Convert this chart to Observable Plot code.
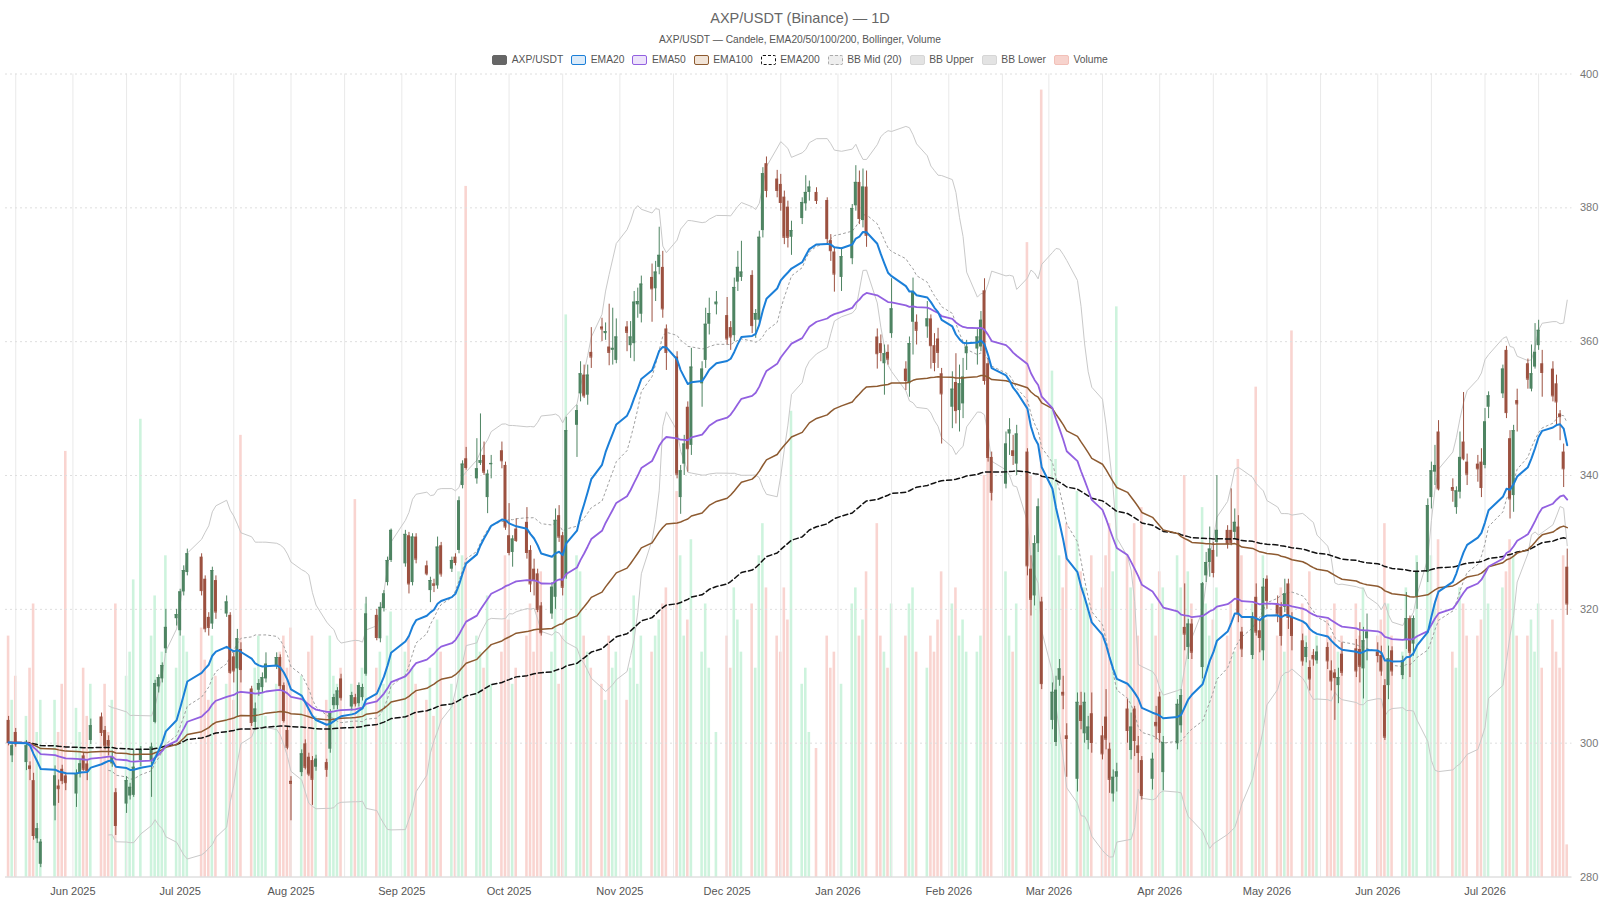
<!DOCTYPE html>
<html><head><meta charset="utf-8">
<script src="https://cdn.jsdelivr.net/npm/d3@7"></script>
<script src="https://cdn.jsdelivr.net/npm/@observablehq/plot@0.6"></script>
<style>
body{margin:0;background:#fff;font-family:"Liberation Sans",Arial,sans-serif;}
#header{position:relative;width:1600px;height:66px;}
#title{position:absolute;top:8px;left:0;width:100%;text-align:center;font-size:14.5px;color:#666;line-height:20px;}
#subtitle{position:absolute;top:33px;left:0;width:100%;text-align:center;font-size:10.2px;color:#555;line-height:14px;}
#legend{position:absolute;top:53px;left:0;width:100%;display:flex;justify-content:center;gap:8px;font-size:10.3px;color:#555;line-height:14px;}
.item{display:flex;align-items:center;gap:4.5px;}
.sw{width:13px;height:8px;border-radius:2px;}
#chart{position:relative;width:1600px;height:834px;}
#chart svg{position:absolute;left:0;top:0;}
</style></head>
<body>
<div id="header">
  <div id="title">AXP/USDT (Binance) — 1D</div>
  <div id="subtitle">AXP/USDT — Candele, EMA20/50/100/200, Bollinger, Volume</div>
  <div id="legend"></div>
</div>
<div id="chart"></div>
<script>
// ---- calendar (NYSE trading days) ----
const firstDay = "2025-05-14";
const lastDay = "2026-07-24";
const holidays = ["2025-05-26","2025-06-19","2025-07-04","2025-09-01","2025-11-27","2025-12-25",
  "2026-01-01","2026-01-19","2026-02-16","2026-04-03","2026-05-25","2026-06-19","2026-07-03"];

// ---- daily candles [open, high, low, close], one line per week ----
const prices = [
 [303.4,304.0,299.6,300.1],[298.1,300.0,297.1,299.6],[301.6,302.2,299.4,299.9],
 [297.1,300.4,295.9,299.6],[296.6,297.2,294.4,296.2],[294.4,295.5,285.5,286.2],[285.7,288.0,285.0,287.2],[281.9,285.6,281.4,285.2],
 [290.6,296.6,288.4,295.1],[293.6,294.5,291.0,293.2],[296.1,296.7,293.8,294.4],[295.1,295.6,292.9,294.1],
 [292.4,296.0,290.4,295.4],[295.4,297.5,294.8,296.9],[298.1,298.6,295.8,296.1],[296.9,297.4,294.4,295.9],[300.4,303.6,299.8,302.6],
 [303.9,304.5,301.0,301.6],[301.9,302.5,299.0,299.6],[300.4,301.1,298.1,299.6],[296.9,298.8,296.4,297.9],[292.6,293.2,286.2,287.7],
 [290.9,295.0,289.5,294.4],[292.1,294.0,291.5,293.4],[292.2,298.9,291.9,296.4],[297.4,299.5,296.5,298.9],
 [297.4,300.0,291.9,299.4],[303.1,309.4,302.9,308.9],[308.4,310.2,307.5,309.8],[309.6,312.0,309.0,311.6],[314.1,320.0,313.4,317.3],
 [318.6,320.0,317.5,319.2],[316.8,323.0,316.0,322.6],[322.6,326.5,322.0,325.8],[325.5,329.0,325.0,328.3],
 [327.8,328.3,322.0,322.8],[324.5,325.0,316.5,317.1],[318.8,319.5,316.0,317.3],[317.8,326.3,317.0,325.8],[324.3,325.0,318.5,319.6],
 [319.3,322.0,318.8,321.1],[319.1,319.5,310.3,310.6],[312.9,313.5,309.0,310.8],[311.1,317.0,303.9,315.6],[314.0,315.0,309.0,311.0],
 [308.1,308.5,302.5,303.1],[303.1,306.0,302.0,305.1],[307.9,309.5,307.0,308.9],[308.3,310.5,307.5,309.8],[309.6,313.5,309.0,311.8],
 [311.5,313.5,311.0,312.8],[312.8,313.2,308.0,308.6],[308.6,309.0,303.0,303.4],[301.9,302.5,299.0,299.4],[294.3,295.0,288.4,294.0],
 [295.6,299.0,295.0,298.4],[299.9,300.5,296.0,296.4],[297.9,298.5,295.0,295.4],[297.4,298.0,290.7,294.6],[296.4,298.2,295.8,297.6],
 [297.1,297.6,294.9,296.1],[299.1,305.0,298.5,304.4],[305.6,307.3,305.0,306.8],[305.6,308.3,305.0,307.8],[309.6,310.3,306.3,306.8],
 [305.4,307.6,304.8,307.1],[306.8,307.3,305.4,305.9],[305.9,309.0,305.4,308.6],[306.8,308.8,306.3,308.3],[310.3,321.8,310.0,319.3],
 [319.1,320.0,315.3,315.8],[315.6,321.0,315.0,320.3],[320.1,322.8,319.6,322.3],[324.0,327.8,323.5,327.3],[327.3,332.0,327.0,331.8],
 [326.8,331.8,326.3,331.2],[331.0,331.5,322.3,323.8],[324.0,331.3,323.5,330.8],[330.8,331.3,326.8,327.5],
 [326.5,327.2,325.0,325.3],[322.8,324.8,321.0,324.3],[323.8,324.5,322.5,323.6],[323.5,330.8,323.0,329.3],[329.5,330.0,324.8,325.3],
 [326.0,327.8,325.5,327.3],[327.8,328.3,326.5,327.0],[328.8,336.8,328.3,336.2],[338.5,342.2,338.0,341.7],[342.5,344.2,340.8,341.2],
 [339.5,345.5,338.7,341.0],[341.8,349.2,341.5,342.2],[343.0,345.0,340.0,340.5],[336.7,340.8,334.3,340.2],[341.6,343.0,339.5,341.8],
 [343.7,345.0,341.0,342.2],[341.5,342.0,331.8,332.3],[331.0,335.8,328.0,328.5],[328.5,331.0,326.3,330.5],[332.0,333.5,330.0,330.3],
 [333.0,335.2,327.5,328.5],[328.8,329.5,322.5,323.8],[326.0,327.5,322.0,324.3],[325.3,326.0,319.5,320.0],[320.5,321.0,316.0,316.5],
 [319.3,324.0,318.5,323.3],[321.8,335.0,320.0,333.3],[334.0,335.5,330.0,330.8],[331.0,331.5,322.0,323.3],[325.0,348.7,324.5,346.7],
 [347.5,350.5,342.7,349.7],[352.2,357.0,351.0,355.2],[355.0,356.5,351.5,351.9],[352.0,356.5,350.5,355.0],[358.4,362.1,356.0,357.7],
 [362.2,363.5,360.0,361.9],[361.2,362.8,360.2,361.5],[359.2,365.6,356.4,358.4],[358.7,365.0,356.5,359.0],[357.2,363.4,356.7,360.7],
 [362.2,363.0,358.5,361.4],[359.4,363.0,357.5,360.7],[359.7,367.5,357.0,365.9],[365.5,368.0,363.5,366.0],[364.1,369.8,362.8,368.6],
 [369.6,371.6,362.9,367.9],[367.9,372.0,366.0,370.4],[371.1,377.1,370.0,372.9],[371.1,373.5,363.5,364.9],[361.9,362.5,355.7,358.4],
 [357.7,358.5,339.5,340.2],[336.7,341.5,334.2,340.7],[341.7,346.0,340.0,344.7],[350.2,351.0,340.5,344.0],[344.5,359.0,343.0,356.2],
 [353.7,357.0,350.2,355.9],[357.2,365.0,356.0,362.6],[362.6,366.5,361.0,364.2],[365.5,367.5,364.0,365.9],
 [363.9,366.6,359.5,360.4],[362.1,363.0,358.7,360.7],[360.9,369.5,360.0,368.1],[368.9,373.5,367.5,371.1],[369.6,375.0,369.0,370.4],
 [369.9,370.6,361.2,362.4],[363.2,364.8,360.5,364.2],[363.2,376.5,362.5,375.6],[376.6,386.0,375.5,385.1],[386.6,387.6,381.5,382.6],
 [384.3,385.6,381.5,382.6],[383.5,385.0,379.5,380.8],[381.6,382.5,374.5,375.6],[380.1,381.0,374.0,375.6],[375.6,378.0,372.9,376.6],
 [378.4,381.5,377.5,380.8],[380.6,384.8,379.5,382.3],[382.3,384.0,381.0,383.1],[382.3,383.0,380.5,381.1],
 [381.1,381.5,374.5,375.4],[375.1,376.0,372.0,373.6],[373.4,374.0,367.4,370.1],[369.6,374.0,367.5,372.7],
 [372.4,380.5,371.5,379.9],[380.3,386.3,379.5,383.8],[383.8,385.5,377.5,378.4],[378.1,385.8,377.0,383.1],[383.1,385.5,374.1,375.9],
 [360.7,361.9,355.9,358.2],[359.7,361.0,357.0,358.4],[356.7,359.5,352.0,358.2],[358.4,359.5,356.5,357.4],[361.2,369.4,360.5,364.9],
 [355.9,357.0,352.7,354.2],[353.7,360.7,351.7,359.7],[362.9,369.5,358.0,367.5],[362.9,364.0,359.5,361.7],
 [362.2,366.0,360.5,363.4],[363.4,364.0,355.9,359.4],[359.4,361.2,355.5,356.9],[360.4,362.0,356.0,358.4],[355.2,356.0,344.7,352.2],
 [350.2,355.5,347.0,352.9],[353.9,358.2,347.7,349.7],[349.7,356.5,346.5,353.7],[350.7,357.5,348.5,354.7],[358.2,360.2,355.7,359.2],
 [358.9,362.0,356.5,360.7],[359.2,364.5,358.5,363.2],[367.6,369.4,353.5,354.2],[356.7,357.5,342.0,342.7],[342.7,343.5,336.2,337.5],
 [338.7,346.5,338.0,344.7],[346.2,348.5,343.0,346.8],[343.7,346.0,341.5,343.0],[341.7,347.5,340.0,346.2],
 [343.5,344.0,325.0,326.5],[326.0,328.0,319.0,321.5],[322.0,331.0,320.5,329.8],[329.8,336.5,328.5,335.3],[321.1,321.8,308.0,308.9],
 [303.4,309.0,302.0,307.6],[300.1,310.0,299.5,307.9],[309.4,312.5,308.5,311.1],[307.6,310.0,305.0,307.2],[301.1,302.9,294.9,300.7],
 [294.6,307.5,292.7,306.1],[305.6,307.6,302.0,303.4],[301.4,307.5,300.0,306.1],[300.4,304.0,299.0,302.4],[304.4,307.5,298.5,300.1],
 [301.1,302.5,297.5,298.4],[303.9,308.0,299.0,300.6],[299.1,300.0,292.5,294.6],[292.4,296.0,291.2,294.9],[294.9,297.0,292.7,295.7],
 [305.1,306.5,300.0,301.9],[298.9,304.5,297.5,302.4],[305.1,305.5,298.0,300.4],[299.6,301.0,295.5,298.6],[297.4,298.0,291.5,292.2],
 [294.6,298.5,293.0,297.6],[303.1,305.5,300.5,302.6],[306.9,307.6,300.0,301.6],[295.6,301.0,292.9,300.1],
 [299.9,306.5,299.0,305.8],[302.6,308.0,301.5,307.1],[317.3,323.8,313.8,316.3],[314.3,318.5,312.5,317.8],[317.8,318.5,312.5,313.6],
 [311.3,324.0,309.6,323.8],[325.0,328.5,324.0,327.0],[327.0,332.3,324.8,329.0],[328.8,330.0,324.7,325.5],[330.0,340.0,327.8,331.8],
 [331.8,332.5,329.0,329.8],[331.8,338.0,329.5,330.0],[331.5,335.0,330.5,333.0],[332.3,334.0,318.0,319.3],[316.6,317.3,312.8,314.1],
 [313.1,319.5,312.5,318.8],[321.8,323.8,316.0,316.6],[316.8,318.5,313.5,315.8],[313.8,324.6,312.3,323.3],[324.5,325.0,320.0,321.3],
 [320.8,322.0,318.0,319.3],[320.3,321.0,314.5,316.1],[320.3,324.5,319.5,322.3],[323.8,324.5,317.0,318.8],[318.8,319.5,313.8,316.1],
 [315.3,316.3,311.5,312.3],[312.8,315.0,312.0,314.3],[311.3,312.3,307.8,309.6],[313.1,314.0,311.5,312.6],[312.3,314.5,311.8,313.6],
 [314.3,315.0,311.0,312.3],[310.8,312.3,307.8,309.3],[310.5,311.0,303.4,309.8],[308.6,311.2,305.9,309.8],[313.3,315.0,310.0,310.6],
 [314.1,315.5,309.8,310.8],[314.0,318.0,309.0,311.5],[311.1,317.3,306.6,315.3],[315.6,319.3,312.3,316.6],
 [313.6,315.0,312.0,313.1],[313.1,314.5,310.0,310.8],[308.6,309.5,300.4,300.9],[308.6,314.5,306.5,312.6],[313.8,314.4,310.0,310.8],
 [310.1,313.0,309.5,312.3],[315.3,322.5,314.0,318.6],[318.6,319.0,309.8,313.6],[314.8,319.0,313.0,318.6],[321.8,327.0,320.0,325.5],
 [325.5,336.5,324.0,335.5],[336.7,342.0,335.0,340.7],[340.5,344.5,338.5,341.5],[346.5,348.2,337.7,338.0],
 [338.2,339.5,336.0,337.8],[335.2,338.3,334.2,337.7],[337.5,346.5,336.5,342.7],[345.0,352.4,342.2,342.5],[342.0,343.2,338.5,340.2],
 [341.7,343.0,339.0,341.0],[342.0,344.0,336.7,338.2],[341.5,350.0,341.0,348.0],[350.2,352.5,348.5,351.9],
 [352.2,356.5,351.5,355.9],[358.7,359.3,348.5,349.4],[345.5,346.7,333.5,336.5],[337.0,347.5,334.5,346.7],[351.2,352.9,346.5,350.7],
 [356.7,357.4,352.9,354.4],[352.9,359.5,352.5,355.2],[356.2,362.7,355.9,358.4],[359.4,363.2,358.7,361.7],[356.7,358.7,351.7,355.4],
 [355.9,357.0,351.0,351.9],[353.7,355.0,347.5,351.0],[349.2,349.7,345.2,348.8],[343.5,344.7,338.2,341.0],[326.3,329.0,319.1,320.8]
];

// ---- daily volume (relative units), one line per week ----
const volumes = [
 30,22,25,
 20,26,34,18,22,
 22,18,24,53,
 21,18,26,20,24,
 20,24,18,22,34,
 25,28,37,57,
 30,35,24,28,40,
 26,33,30,28,
 31,27,22,30,25,
 24,30,22,28,55,
 22,26,30,24,20,
 24,28,30,26,31,
 25,22,28,30,20,
 22,30,25,24,26,
 24,47,22,26,34,
 26,28,24,30,33,
 28,30,26,24,
 22,26,20,32,28,
 24,22,38,40,86,
 30,28,26,35,24,
 28,40,32,24,26,
 30,34,28,36,38,
 28,36,24,30,70,
 40,38,30,28,26,
 24,22,30,26,28,
 22,26,35,24,30,
 28,30,32,34,36,
 48,40,30,32,42,
 28,34,26,18,
 30,26,36,32,28,
 34,26,40,44,36,
 30,28,36,32,58,
 24,26,18,16,
 30,26,28,24,
 34,36,30,32,38,
 44,30,28,26,34,
 30,34,36,28,
 26,30,28,32,38,
 34,36,30,32,28,
 28,30,50,56,48,
 38,30,28,34,
 79,50,40,45,98,
 63,52,40,36,44,
 48,38,36,34,40,
 36,40,44,38,71,
 40,36,44,30,46,
 34,30,38,36,
 40,36,50,38,34,
 46,34,30,32,36,
 30,34,28,52,40,
 34,61,30,40,32,
 30,36,28,32,68,
 34,30,38,28,30,
 32,30,34,28,30,
 34,30,36,28,
 30,32,44,34,30,
 28,36,32,30,40,
 46,40,34,42,
 28,26,36,34,30,
 30,32,38,34,
 36,38,42,40,30,
 30,32,28,34,26,
 32,28,26,40,4
];

const yTicks = [280,300,320,340,360,380,400];

// ---- build table ----
const dates = [];
for (let t = Date.parse(firstDay + "T00:00:00Z"); t <= Date.parse(lastDay + "T00:00:00Z"); t += 864e5) {
  const d = new Date(t), wd = d.getUTCDay();
  if (wd === 0 || wd === 6) continue;
  if (holidays.includes(d.toISOString().slice(0,10))) continue;
  dates.push(d);
}
const n = Math.min(dates.length, prices.length, volumes.length);
if (dates.length !== prices.length || prices.length !== volumes.length) console.warn("length mismatch", dates.length, prices.length, volumes.length);
const DAY = 864e5;
const rows = [];
for (let i = 0; i < n; i++) {
  const [o,h,l,c] = prices[i];
  rows.push({date: dates[i], open:o, high:Math.max(h,o,c), low:Math.min(l,o,c), close:c, volume:volumes[i], up: c >= o,
    x1: new Date(+dates[i] - 0.42*DAY), x2: new Date(+dates[i] + 0.42*DAY),
    v1: new Date(+dates[i] - 0.36*DAY), v2: new Date(+dates[i] + 0.36*DAY)});
}
function addEma(key, period) {
  const a = 2/(period+1); let e = rows[0].close;
  rows.forEach((r,i) => { e = i === 0 ? r.close : a*r.close + (1-a)*e; r[key] = e; });
}
addEma("ema20",20); addEma("ema50",50); addEma("ema100",100); addEma("ema200",200);
const bb = [];
for (let i = 19; i < rows.length; i++) {
  const w = rows.slice(i-19, i+1).map(r => r.close);
  const m = d3.mean(w), sd = Math.sqrt(d3.mean(w, v => (v-m)*(v-m)));
  bb.push({date: rows[i].date, mid: m, upper: m + 2*sd, lower: m - 2*sd});
}

const UP = "#4e8462", DOWN = "#9c5140";
const C20 = "#1b7fd8", C50 = "#9260e0", C100 = "#8d5a30", C200 = "#111";

// ---- legend ----
const legendItems = [
  {label:"AXP/USDT", bg:"#666", bd:"#666", style:"solid"},
  {label:"EMA20", bg:"#dcebf9", bd:C20, style:"solid"},
  {label:"EMA50", bg:"#ede3fb", bd:C50, style:"solid"},
  {label:"EMA100", bg:"#f1e4d8", bd:C100, style:"solid"},
  {label:"EMA200", bg:"#fff", bd:"#111", style:"dashed"},
  {label:"BB Mid (20)", bg:"#eee", bd:"#aaa", style:"dashed"},
  {label:"BB Upper", bg:"#e3e3e3", bd:"#d6d6d6", style:"solid"},
  {label:"BB Lower", bg:"#e3e3e3", bd:"#d6d6d6", style:"solid"},
  {label:"Volume", bg:"#f7d3cd", bd:"#f2c0b8", style:"solid"}
];
const lg = document.getElementById("legend");
for (const it of legendItems) {
  const el = document.createElement("div"); el.className = "item";
  el.innerHTML = `<span class="sw" style="background:${it.bg};border:1.5px ${it.style} ${it.bd}"></span><span>${it.label}</span>`;
  lg.appendChild(el);
}

// ---- shared layout ----
const W = 1600, H = 834;
const margins = {marginTop: 7.5, marginBottom: 23.5, marginLeft: 5, marginRight: 28.5};
const xDomain = [new Date(Date.UTC(2025,4,13,3,20)), new Date(Date.UTC(2026,6,25,8))];
const monthTicks = d3.utcMonth.range(new Date(Date.UTC(2025,5,1)), new Date(Date.UTC(2026,6,2)));
const gridDates = [];
for (const m of d3.utcMonth.range(new Date(Date.UTC(2025,4,1)), new Date(Date.UTC(2026,7,1)))) {
  gridDates.push(m, new Date(Date.UTC(m.getUTCFullYear(), m.getUTCMonth(), 16)));
}
const gridIn = gridDates.filter(d => d > xDomain[0] && d < xDomain[1]);

// volume layer
const volPlot = Plot.plot({
  width: W, height: H, ...margins,
  x: {type: "utc", domain: xDomain, axis: null},
  y: {domain: [0, 100], axis: null},
  marks: [
    Plot.rectY(rows, {x1: "v1", x2: "v2", y1: 0, y2: "volume", fill: d => d.up ? "#2ecc71" : "#e74c3c", fillOpacity: 0.24})
  ]
});

// price layer
const pricePlot = Plot.plot({
  width: W, height: H, ...margins,
  style: {background: "transparent", fontFamily: "Liberation Sans, Arial, sans-serif", fontSize: "11px", color: "#777"},
  x: {type: "utc", domain: xDomain},
  y: {domain: [280, 400]},
  marks: [
    Plot.ruleX(gridIn, {stroke: "#e9e9e9", strokeWidth: 1}),
    Plot.ruleY(yTicks.slice(1), {stroke: "#dedede", strokeDasharray: "2,3"}),
    Plot.ruleY([280], {stroke: "#d0d0d0"}),
    Plot.axisY({anchor: "right", ticks: yTicks, tickSize: 0, tickPadding: 8, label: null}),
    Plot.axisX({ticks: monthTicks, tickFormat: d3.utcFormat("%b %Y"), tickSize: 0, tickPadding: 10, label: null, color: "#555"}),
    Plot.line(bb, {x: "date", y: "upper", stroke: "#c9c9c9", strokeWidth: 1}),
    Plot.line(bb, {x: "date", y: "lower", stroke: "#c9c9c9", strokeWidth: 1}),
    Plot.line(bb, {x: "date", y: "mid", stroke: "#a0a0a0", strokeWidth: 1, strokeDasharray: "2,3"}),
    Plot.ruleX(rows, {x: "date", y1: "low", y2: "high", stroke: d => d.up ? UP : DOWN, strokeWidth: 1}),
    Plot.rect(rows, {x1: "x1", x2: "x2", y1: "open", y2: "close", fill: d => d.up ? UP : DOWN}),
    Plot.ruleY(rows, {x1: "x1", x2: "x2", y: "close", stroke: d => d.up ? UP : DOWN, strokeWidth: 1}),
    Plot.line(rows, {x: "date", y: "ema200", stroke: C200, strokeWidth: 1.5, strokeDasharray: "5,3"}),
    Plot.line(rows, {x: "date", y: "ema100", stroke: C100, strokeWidth: 1.5}),
    Plot.line(rows, {x: "date", y: "ema50", stroke: C50, strokeWidth: 1.8}),
    Plot.line(rows, {x: "date", y: "ema20", stroke: C20, strokeWidth: 2})
  ]
});
const chart = document.getElementById("chart");
chart.appendChild(volPlot);
chart.appendChild(pricePlot);
</script>
</body></html>
